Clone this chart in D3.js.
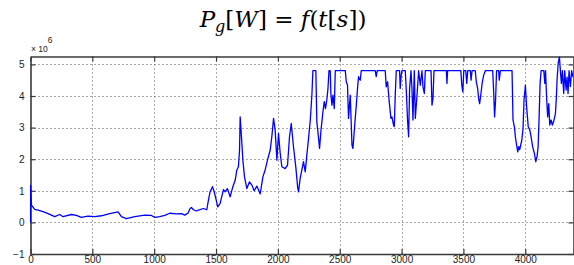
<!DOCTYPE html>
<html>
<head>
<meta charset="utf-8">
<script src="https://cdn.jsdelivr.net/npm/d3@7"></script>
<style>
  body { margin: 0; background: #fff; }
  svg { display: block; }
</style>
</head>
<body>
<script>
// time axis [s] and generated power [x 1e6 W]
const timeS = [0, 1, 8, 34, 61, 101, 142, 196, 236, 263, 330, 371, 411, 465, 519, 573, 640, 708, 735, 775,
  843, 924, 977, 1005, 1045, 1086, 1126, 1180, 1220, 1248, 1274, 1290, 1301, 1317, 1340, 1358, 1398, 1425, 1439, 1452,
  1471, 1485, 1501, 1514, 1533, 1560, 1574, 1592, 1614, 1636, 1655, 1668, 1681, 1690, 1695, 1703, 1717, 1730, 1749, 1770,
  1790, 1808, 1830, 1857, 1879, 1897, 1916, 1938, 1951, 1965, 1978, 1992, 2005, 2019, 2032, 2059, 2078, 2094, 2108, 2126,
  2146, 2160, 2167, 2180, 2194, 2207, 2221, 2234, 2248, 2262, 2275, 2283, 2307, 2315, 2329, 2337, 2348, 2356, 2364, 2375,
  2385, 2397, 2405, 2413, 2423, 2429, 2437, 2445, 2456, 2464, 2545, 2553, 2563, 2571, 2585, 2599, 2607, 2617, 2634, 2644,
  2652, 2666, 2674, 2787, 2795, 2803, 2868, 2876, 2887, 2900, 2914, 2922, 2935, 2941, 2949, 2957, 2984, 2989, 2997, 3003,
  3030, 3038, 3049, 3057, 3065, 3076, 3084, 3092, 3103, 3111, 3125, 3138, 3151, 3165, 3173, 3184, 3192, 3238, 3246, 3254,
  3262, 3362, 3367, 3372, 3479, 3487, 3495, 3503, 3519, 3527, 3535, 3556, 3562, 3570, 3596, 3604, 3615, 3623, 3631, 3642,
  3653, 3664, 3677, 3737, 3744, 3752, 3760, 3768, 3785, 3790, 3799, 3893, 3901, 3912, 3920, 3928, 3939, 3947, 3955, 3972,
  3982, 3990, 4001, 4011, 4024, 4037, 4047, 4060, 4074, 4085, 4096, 4104, 4112, 4120, 4128, 4150, 4158, 4164, 4172, 4181,
  4190, 4198, 4209, 4219, 4230, 4244, 4252, 4257, 4266, 4276, 4284, 4292, 4300, 4311, 4319, 4330, 4338, 4346, 4354, 4365,
  4375, 4386];
const powerMW = [0, 1.17, 0.55, 0.41, 0.39, 0.34, 0.28, 0.18, 0.25, 0.18, 0.25, 0.22, 0.16, 0.20, 0.18, 0.21, 0.28, 0.33, 0.18, 0.12,
  0.18, 0.23, 0.22, 0.16, 0.18, 0.22, 0.29, 0.27, 0.28, 0.23, 0.30, 0.44, 0.47, 0.40, 0.36, 0.39, 0.44, 0.40, 0.71, 0.97,
  1.13, 0.97, 0.71, 0.49, 0.60, 1.04, 0.97, 1.07, 0.81, 1.13, 1.34, 1.66, 1.76, 2.29, 3.34, 2.87, 1.97, 1.44, 1.07, 1.28,
  1.18, 1.00, 1.15, 0.90, 1.44, 1.66, 1.97, 2.29, 2.71, 3.29, 2.92, 1.97, 2.82, 2.18, 1.76, 1.70, 1.81, 2.71, 3.13, 2.40,
  1.71, 1.10, 0.97, 1.39, 1.66, 1.92, 1.60, 2.13, 2.66, 3.24, 4.03, 4.80, 4.80, 3.18, 2.66, 2.34, 2.90, 3.18, 3.50, 3.82,
  3.60, 3.92, 4.24, 4.80, 4.80, 4.03, 3.71, 4.03, 3.60, 4.80, 4.80, 4.45, 4.34, 3.29, 4.03, 2.45, 2.34, 2.87, 3.71, 4.24,
  4.61, 4.50, 4.80, 4.80, 4.61, 4.80, 4.80, 4.29, 4.45, 3.82, 3.29, 3.34, 3.08, 3.03, 4.03, 4.80, 4.80, 4.24, 4.66, 4.80,
  4.80, 4.19, 3.18, 2.71, 4.24, 4.80, 4.24, 3.24, 4.80, 3.29, 4.03, 4.80, 4.34, 4.80, 4.29, 4.08, 4.80, 4.80, 3.71, 3.92,
  4.80, 4.80, 4.40, 4.80, 4.80, 4.34, 4.13, 4.80, 4.80, 4.40, 4.80, 4.80, 4.50, 4.80, 4.80, 4.45, 4.24, 3.92, 3.76, 4.08,
  4.45, 4.66, 4.80, 4.80, 4.19, 3.34, 3.87, 4.80, 4.80, 4.50, 4.80, 4.80, 3.24, 3.03, 2.71, 2.50, 2.23, 2.40, 2.30, 2.60,
  2.97, 3.87, 4.34, 3.66, 3.03, 2.92, 2.71, 2.39, 2.18, 1.92, 2.10, 2.40, 3.34, 4.40, 4.80, 4.80, 4.40, 4.80, 4.00, 3.34,
  3.76, 3.08, 3.24, 3.08, 3.20, 3.45, 4.00, 4.50, 5.03, 5.24, 4.80, 4.40, 4.80, 4.08, 4.80, 4.19, 4.60, 4.08, 4.80, 4.30,
  4.80, 4.60];

const xTicks = [0, 500, 1000, 1500, 2000, 2500, 3000, 3500, 4000];
const yTicks = [-1, 0, 1, 2, 3, 4, 5];

const width = 574, height = 265;
const plot = { left: 30.5, right: 573.5, top: 56.5, bottom: 254 };

const svg = d3.select("body").append("svg")
    .attr("width", width)
    .attr("height", height);

const x = d3.scaleLinear().domain([0, 4390]).range([plot.left, plot.right]);
const y = d3.scaleLinear().domain([-1, 5.25]).range([plot.bottom, plot.top]);

// dotted grid
const grid = svg.append("g")
    .attr("stroke", "#555")
    .attr("stroke-width", 1)
    .attr("stroke-dasharray", "1,3");

grid.selectAll(".gx")
    .data(xTicks.filter(d => d > 0))
    .enter().append("line")
    .attr("x1", d => Math.round(x(d)) + 0.5)
    .attr("x2", d => Math.round(x(d)) + 0.5)
    .attr("y1", plot.top)
    .attr("y2", plot.bottom);

grid.selectAll(".gy")
    .data(yTicks.filter(d => d > -1))
    .enter().append("line")
    .attr("y1", d => Math.round(y(d)) + 0.5)
    .attr("y2", d => Math.round(y(d)) + 0.5)
    .attr("x1", plot.left)
    .attr("x2", plot.right);

// axes, ticks pointing inward, mirrored on top / right
const axisColor = "#3a3a3a";
const fmt = d3.format("d");

const bottomAxis = svg.append("g")
    .attr("transform", `translate(0,${plot.bottom})`)
    .call(d3.axisBottom(x).tickValues(xTicks).tickFormat(fmt).tickSizeInner(-5).tickSizeOuter(0).tickPadding(2));

const leftAxis = svg.append("g")
    .attr("transform", `translate(${plot.left},0)`)
    .call(d3.axisLeft(y).tickValues(yTicks).tickFormat(fmt).tickSizeInner(-5).tickSizeOuter(0).tickPadding(6));

const topAxis = svg.append("g")
    .attr("transform", `translate(0,${plot.top})`)
    .call(d3.axisTop(x).tickValues(xTicks).tickSizeInner(-5).tickSizeOuter(0).tickFormat(""));

const rightAxis = svg.append("g")
    .attr("transform", `translate(${plot.right},0)`)
    .call(d3.axisRight(y).tickValues(yTicks).tickSizeInner(-5).tickSizeOuter(0).tickFormat(""));

[bottomAxis, leftAxis, topAxis, rightAxis].forEach(a => {
    a.select(".domain").attr("stroke", axisColor).attr("stroke-width", 1.6);
    a.selectAll(".tick line").attr("stroke", axisColor).attr("stroke-width", 1.2);
    a.selectAll(".tick text")
        .attr("fill", "#222")
        .style("font-family", "'Liberation Sans', Arial, sans-serif")
        .style("font-size", "10px");
});

// the signal, drawn over the axes like the original
svg.append("clipPath").attr("id", "clip")
    .append("rect")
    .attr("x", plot.left - 1).attr("y", plot.top)
    .attr("width", plot.right - plot.left + 1)
    .attr("height", plot.bottom - plot.top);

const line = d3.line()
    .x((d, i) => x(timeS[i]))
    .y(d => y(d));

svg.append("path")
    .datum(powerMW)
    .attr("clip-path", "url(#clip)")
    .attr("fill", "none")
    .attr("stroke", "#0000ff")
    .attr("stroke-width", 1.3)
    .attr("stroke-linejoin", "round")
    .attr("d", line);

// exponent label
const expo = svg.append("text")
    .attr("x", 31)
    .attr("y", 52)
    .attr("fill", "#222")
    .style("font-family", "'Liberation Sans', Arial, sans-serif")
    .style("font-size", "8.5px");
expo.append("tspan").text("\u00d7 10");
expo.append("tspan").attr("dy", -9).style("font-size", "8.5px").text("6");

// title  P_g[W] = f(t[s])
const title = svg.append("text")
    .attr("x", 283)
    .attr("y", 27)
    .attr("text-anchor", "middle")
    .attr("fill", "#000")
    .style("font-family", "'DejaVu Serif', 'Liberation Serif', serif")
    .style("font-size", "23px");
title.append("tspan").style("font-style", "italic").text("P");
title.append("tspan").attr("dy", 5).style("font-style", "italic").style("font-size", "16px").text("g");
title.append("tspan").attr("dy", -5).text("[");
title.append("tspan").style("font-style", "italic").text("W");
title.append("tspan").text("] = ");
title.append("tspan").style("font-style", "italic").text("f");
title.append("tspan").text("(");
title.append("tspan").style("font-style", "italic").text("t");
title.append("tspan").text("[");
title.append("tspan").style("font-style", "italic").text("s");
title.append("tspan").text("])");
</script>
</body>
</html>
